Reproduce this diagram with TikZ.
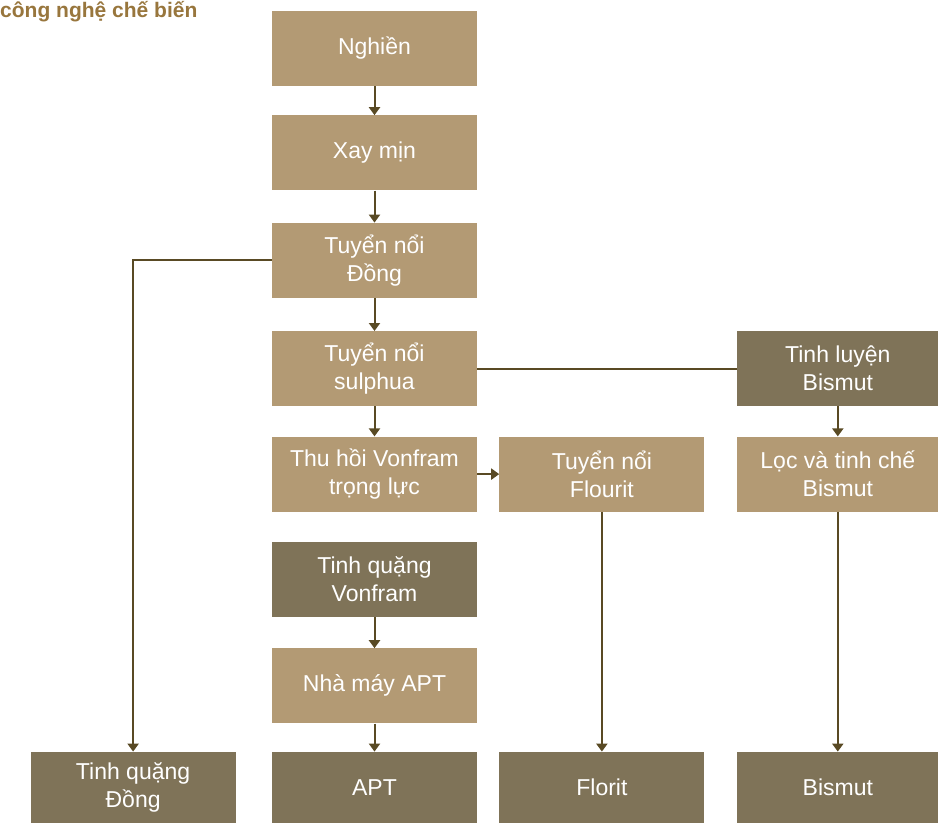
\documentclass[tikz,border=0pt]{standalone}
\usepackage{fontspec}
\setmainfont{Liberation Sans}
\usepackage{tikz}
\usetikzlibrary{arrows.meta, positioning}
\definecolor{procTan}{HTML}{B39A74}
\definecolor{prodOlive}{HTML}{7F7358}
\definecolor{lineBrown}{HTML}{594A24}
\definecolor{titleBrown}{HTML}{98763D}

\begin{document}
\begin{tikzpicture}[
  proc/.style={fill=procTan, draw=none, minimum width=205pt, minimum height=75pt, align=center, text=white, font=\fontsize{23}{28}\selectfont},
  prod/.style={proc, fill=prodOlive},
  endbox/.style={prod, minimum height=71pt},
  arr/.style={-{Triangle[width=11pt,length=8pt]}, line width=2pt, draw=lineBrown},
  link/.style={line width=2pt, draw=lineBrown}
]
  \useasboundingbox (0,0) rectangle (938pt,-823pt);
  \node[anchor=base west, inner sep=0pt, text=titleBrown, font=\fontsize{21}{25}\selectfont\bfseries] (ttl) at (0pt,-17pt) {công nghệ chế biến};

  \node[proc] (ngh) at (374.5pt,-48.5pt) {Nghiền};
  \node[proc, below=29pt of ngh] (xay) {Xay mịn};
  \node[proc, below=32pt of xay] (dong) {Tuyển nổi\\Đồng};
  \node[proc, below=33pt of dong] (sul) {Tuyển nổi\\sulphua};
  \node[proc, below=30pt of sul] (thu) {Thu hồi Vonfram\\trọng lực};
  \node[proc, right=22pt of thu] (flo) {Tuyển nổi\\Flourit};
  \node[proc, right=32pt of flo, minimum width=202pt] (loc) {Lọc và tinh chế\\Bismut};
  \node[prod, minimum width=202pt] (tlb) at (loc |- sul) {Tinh luyện\\Bismut};
  \node[prod, below=30pt of thu] (tqv) {Tinh quặng\\Vonfram};
  \node[proc, below=31pt of tqv] (nma) {Nhà máy APT};

  % end products
  \node[endbox, below=28pt of nma] (apt) {APT};
  \node[endbox, left=36pt of apt] (tqd) {Tinh quặng\\Đồng};
  \node[endbox] (florit) at (flo |- apt) {Florit};
  \node[endbox, minimum width=202pt] (bis) at (loc |- apt) {Bismut};

  \foreach \a/\b in {ngh/xay, xay/dong, dong/sul, sul/thu, tqv/nma, nma/apt, tlb/loc, loc/bis, flo/florit}
    \draw[arr] (\a) -- (\b);
  \draw[arr] (thu) -- (flo);
  \draw[arr] (dong.west) -| (tqd.north);
  \draw[link] (sul) -- (tlb);
\end{tikzpicture}
\end{document}
